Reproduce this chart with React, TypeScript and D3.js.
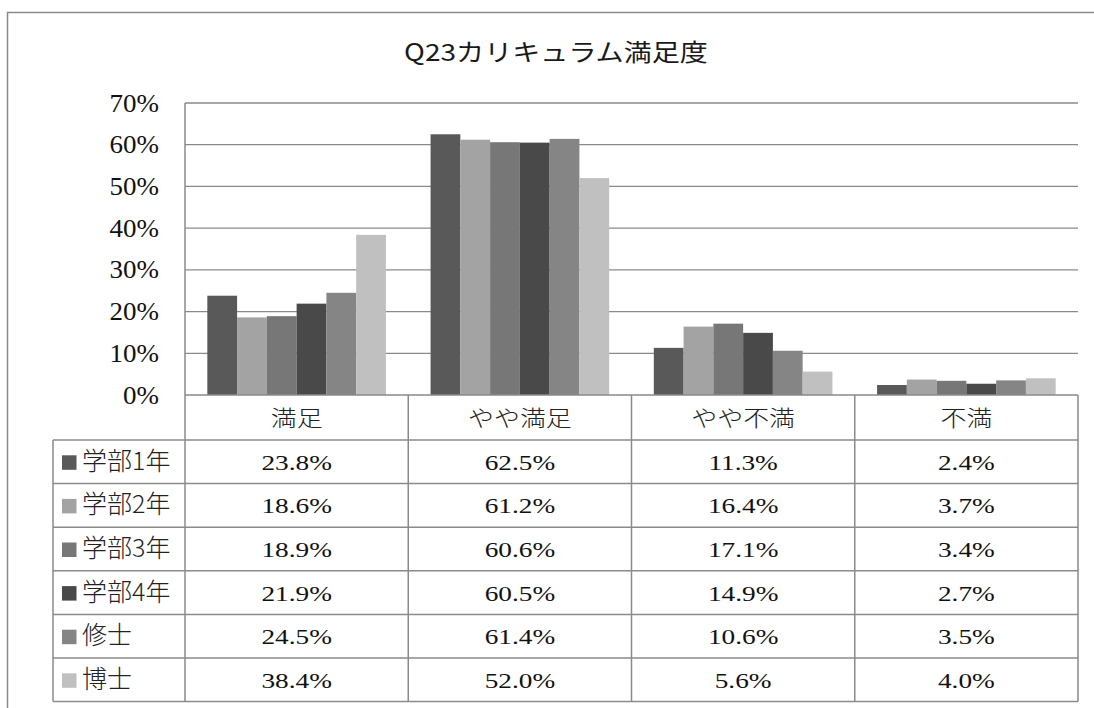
import React from "react";
import * as d3 from "d3";

const categories = ["満足", "やや満足", "やや不満", "不満"];
const seriesNames = ["学部1年", "学部2年", "学部3年", "学部4年", "修士", "博士"];
const seriesValues = [
  [23.8, 62.5, 11.3, 2.4],
  [18.6, 61.2, 16.4, 3.7],
  [18.9, 60.6, 17.1, 3.4],
  [21.9, 60.5, 14.9, 2.7],
  [24.5, 61.4, 10.6, 3.5],
  [38.4, 52.0, 5.6, 4.0],
];
const seriesColors = ["#595959", "#a3a3a3", "#777777", "#494949", "#858585", "#c0c0c0"];
const yTicks = [0, 10, 20, 30, 40, 50, 60, 70];
const title = "Q23カリキュラム満足度";

const W = 1094;
const H = 708;
const plotL = 185;
const plotR = 1078;
const plotT = 103;
const plotB = 395;
const headerB = 440;
const rowH = 43.6;
const legendL = 53;

const serif = "'Liberation Serif', 'Times New Roman', serif";
const cjk = "'Noto Sans CJK JP', 'Noto Sans', sans-serif";
const lineColor = "#8a8a8a";

function SText(props: {
  x: number;
  y: number;
  sx?: number;
  anchor?: string;
  family: string;
  size: number;
  weight?: number;
  fill?: string;
  children: React.ReactNode;
}) {
  const { x, y, sx = 1, anchor = "middle", family, size, weight = 400, fill = "#111", children } = props;
  return (
    <text
      transform={`translate(${x},${y}) scale(${sx},1)`}
      textAnchor={anchor}
      fontFamily={family}
      fontSize={size}
      fontWeight={weight}
      fill={fill}
    >
      {children}
    </text>
  );
}

export default function App() {
  const x = d3.scaleBand<string>().domain(categories).range([plotL, plotR]);
  const inner = d3
    .scaleBand<number>()
    .domain(d3.range(seriesNames.length))
    .range([x.bandwidth() * 0.1, x.bandwidth() * 0.9]);
  const y = d3.scaleLinear().domain([0, 70]).range([plotB, plotT]);
  const tableBottom = headerB + rowH * seriesNames.length;

  return (
    <svg width={W} height={H} style={{ display: "block", position: "absolute", left: 0, top: 0 }}>
      <rect x={0} y={0} width={W} height={H} fill="#fff" />
      <rect x={7.5} y={12.5} width={W + 10} height={H + 10} fill="none" stroke={lineColor} strokeWidth={1.5} />
      <SText x={556} y={61} sx={1.17} family={cjk} size={24} fill="#1a1a1a">
        {title}
      </SText>
      {yTicks.map((t) => (
        <g key={t}>
          {t > 0 && <line x1={plotL} x2={plotR} y1={y(t)} y2={y(t)} stroke={lineColor} strokeWidth={1.3} />}
          <SText x={159} y={y(t) + 8.5} sx={1.08} anchor="end" family={serif} size={25}>
            {t}%
          </SText>
        </g>
      ))}
      {categories.map((c, ci) => (
        <g key={c}>
          {seriesNames.map((s, si) => {
            const v = seriesValues[si][ci];
            return (
              <rect
                key={s}
                x={(x(c) as number) + (inner(si) as number)}
                y={y(v)}
                width={inner.bandwidth()}
                height={plotB - y(v)}
                fill={seriesColors[si]}
              />
            );
          })}
        </g>
      ))}
      <line x1={plotL} x2={plotL} y1={plotT} y2={tableBottom} stroke={lineColor} strokeWidth={1.5} />
      <line x1={plotL} x2={plotR} y1={plotB} y2={plotB} stroke={lineColor} strokeWidth={1.5} />
      {categories.map((c) => (
        <SText
          key={c}
          x={(x(c) as number) + x.bandwidth() / 2}
          y={(plotB + headerB) / 2 + 8}
          sx={1.18}
          family={cjk}
          weight={300}
          size={22}
          fill="#222"
        >
          {c}
        </SText>
      ))}
      {categories.map((c) => (
        <line
          key={c}
          x1={(x(c) as number) + x.bandwidth()}
          x2={(x(c) as number) + x.bandwidth()}
          y1={plotB}
          y2={tableBottom}
          stroke={lineColor}
          strokeWidth={1.5}
        />
      ))}
      {d3.range(seriesNames.length + 1).map((i) => (
        <line
          key={i}
          x1={legendL}
          x2={plotR}
          y1={headerB + i * rowH}
          y2={headerB + i * rowH}
          stroke={lineColor}
          strokeWidth={1.5}
        />
      ))}
      <line x1={legendL} x2={legendL} y1={headerB} y2={tableBottom} stroke={lineColor} strokeWidth={1.5} />
      {seriesNames.map((s, si) => {
        const cy = headerB + si * rowH + rowH / 2;
        return (
          <g key={s}>
            <rect x={62} y={cy - 6.5} width={14.5} height={14.5} fill={seriesColors[si]} />
            <SText x={82} y={cy + 8} anchor="start" family={cjk} weight={300} size={25} fill="#222">
              {s}
            </SText>
            {categories.map((c, ci) => (
              <SText
                key={c}
                x={(x(c) as number) + x.bandwidth() / 2}
                y={cy + 8}
                sx={1.3}
                family={serif}
                size={21}
              >
                {seriesValues[si][ci].toFixed(1)}%
              </SText>
            ))}
          </g>
        );
      })}
    </svg>
  );
}
